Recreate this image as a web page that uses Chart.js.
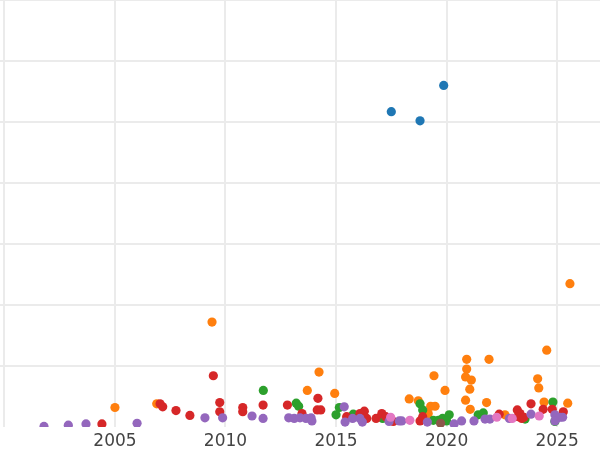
<!DOCTYPE html>
<html><head><meta charset="utf-8">
<script src="https://cdn.jsdelivr.net/npm/chart.js@4/dist/chart.umd.min.js"></script>
<style>html,body{margin:0;padding:0;background:#fff}#wrap{width:600px;height:450px}</style>
</head><body><div id="wrap"><canvas id="c"></canvas></div>
<script>
// [year, value]
const blue = [[2017.50,51.7],[2018.80,50.2],[2019.87,56.0]];
const orange = [[2005.00,3.2],[2006.89,3.8],[2009.39,17.2],[2013.70,6.0],[2014.23,9.0],[2014.94,5.5],
 [2018.31,4.6],[2018.72,4.3],[2019.28,3.4],[2019.48,3.4],[2019.43,8.4],[2019.93,6.0],[2019.17,2.2],
 [2020.91,11.1],[2020.91,9.5],[2020.86,8.2],[2021.12,7.7],[2021.05,6.2],[2020.86,4.4],[2021.07,2.9],
 [2021.92,11.1],[2021.81,4.0],[2022.64,2.0],[2024.12,7.9],[2024.17,6.4],[2024.53,12.6],[2024.41,4.1],
 [2025.48,3.9],[2025.58,23.5]];
const green = [[2011.71,6.0],[2013.20,3.9],[2013.31,3.4],[2015.15,3.2],[2015.00,2.0],[2015.78,2.1],
 [2017.11,1.4],[2018.80,3.8],[2018.92,2.8],[2019.40,1.1],[2019.63,1.1],[2019.82,1.4],[2020.12,2.0],
 [2020.00,1.0],[2021.43,2.0],[2021.66,2.3],[2023.55,1.3],[2024.81,4.1],[2024.90,0.9]];
const red = [[2004.41,0.5],[2007.04,3.8],[2007.16,3.3],[2007.76,2.7],[2008.39,1.9],[2009.45,8.4],
 [2009.74,4.0],[2009.74,2.5],[2010.78,3.2],[2010.78,2.5],[2011.70,3.6],[2012.80,3.6],[2013.46,2.2],
 [2014.18,4.7],[2014.15,2.8],[2014.31,2.8],[2015.48,1.7],[2016.08,2.2],[2016.28,2.6],[2016.39,1.4],
 [2016.81,1.4],[2017.07,2.2],[2017.25,1.7],[2017.59,0.9],[2018.80,1.0],[2018.92,1.7],[2022.38,2.1],
 [2023.20,2.8],[2023.32,2.2],[2023.24,1.7],[2023.40,1.4],[2023.50,1.6],[2023.82,3.8],[2024.37,2.9],
 [2024.78,2.9],[2025.28,2.5]];
const purple = [[2001.79,0.1],[2002.89,0.3],[2003.69,0.5],[2006.00,0.6],[2009.07,1.5],[2009.87,1.5],
 [2011.20,1.8],[2011.70,1.4],[2012.86,1.5],[2013.11,1.4],[2013.37,1.5],[2013.64,1.4],[2013.87,1.5],
 [2013.91,1.0],[2015.37,3.3],[2015.41,0.8],[2015.75,1.4],[2016.08,1.4],[2016.19,0.8],[2017.40,0.9],
 [2017.86,1.0],[2017.97,1.0],[2019.13,0.8],[2020.34,0.5],[2020.68,1.0],[2021.24,1.0],[2021.74,1.3],
 [2021.96,1.3],[2022.84,1.4],[2023.82,2.1],[2024.90,2.0],[2024.98,1.4],[2025.13,1.6],[2024.90,1.0],
 [2025.25,1.6]];
const brown = [[2019.73,0.6]];
const pink = [[2017.47,1.6],[2018.34,1.1],[2022.27,1.6],[2022.97,1.4],[2024.19,1.8]];
const xTicks = [2000, 2005, 2010, 2015, 2020, 2025];

const series = [
  {data: blue, color: '#1f77b4'},
  {data: orange, color: '#ff7f0e'},
  {data: green, color: '#2ca02c'},
  {data: red, color: '#d62728'},
  {data: purple, color: '#9467bd'},
  {data: brown, color: '#8c564b'},
  {data: pink, color: '#e377c2'}
];
const datasets = series.map((s, i) => ({
  data: s.data.map(p => ({x: p[0], y: p[1]})),
  backgroundColor: s.color,
  borderWidth: 0,
  pointRadius: 4.6,
  pointHoverRadius: 4.6,
  order: series.length - i,
  clip: 0
}));

new Chart(document.getElementById('c'), {
  type: 'scatter',
  data: {datasets},
  options: {
    responsive: true, maintainAspectRatio: false, animation: false,
    layout: {padding: 0, autoPadding: false},
    plugins: {legend: {display: false}, tooltip: {enabled: false}},
    scales: {
      x: {
        type: 'linear', min: 1999.8, max: 2026.94,
        afterBuildTicks: (sc) => { sc.ticks = xTicks.map(v => ({value: v})); },
        afterFit: (sc) => { sc.height = 23; sc.paddingLeft = 0; sc.paddingRight = 0; },
        border: {display: false},
        grid: {color: '#ebebeb', lineWidth: 2, drawTicks: false},
        ticks: {
          includeBounds: false, maxRotation: 0, autoSkip: false, padding: 4,
          color: '#444', font: {family: 'DejaVu Sans', size: 17},
          callback: (v) => v === 2000 ? '' : String(v)
        }
      },
      y: {
        min: 0, max: 70,
        afterFit: (sc) => { sc.width = 0; sc.paddingTop = 0; sc.paddingBottom = 0; },
        border: {display: false},
        grid: {color: (ctx) => ctx.tick && ctx.tick.value === 0 ? 'rgba(0,0,0,0)' : '#ebebeb', lineWidth: 2, drawTicks: false},
        ticks: {display: false, stepSize: 10}
      }
    }
  }
});
</script></body></html>
